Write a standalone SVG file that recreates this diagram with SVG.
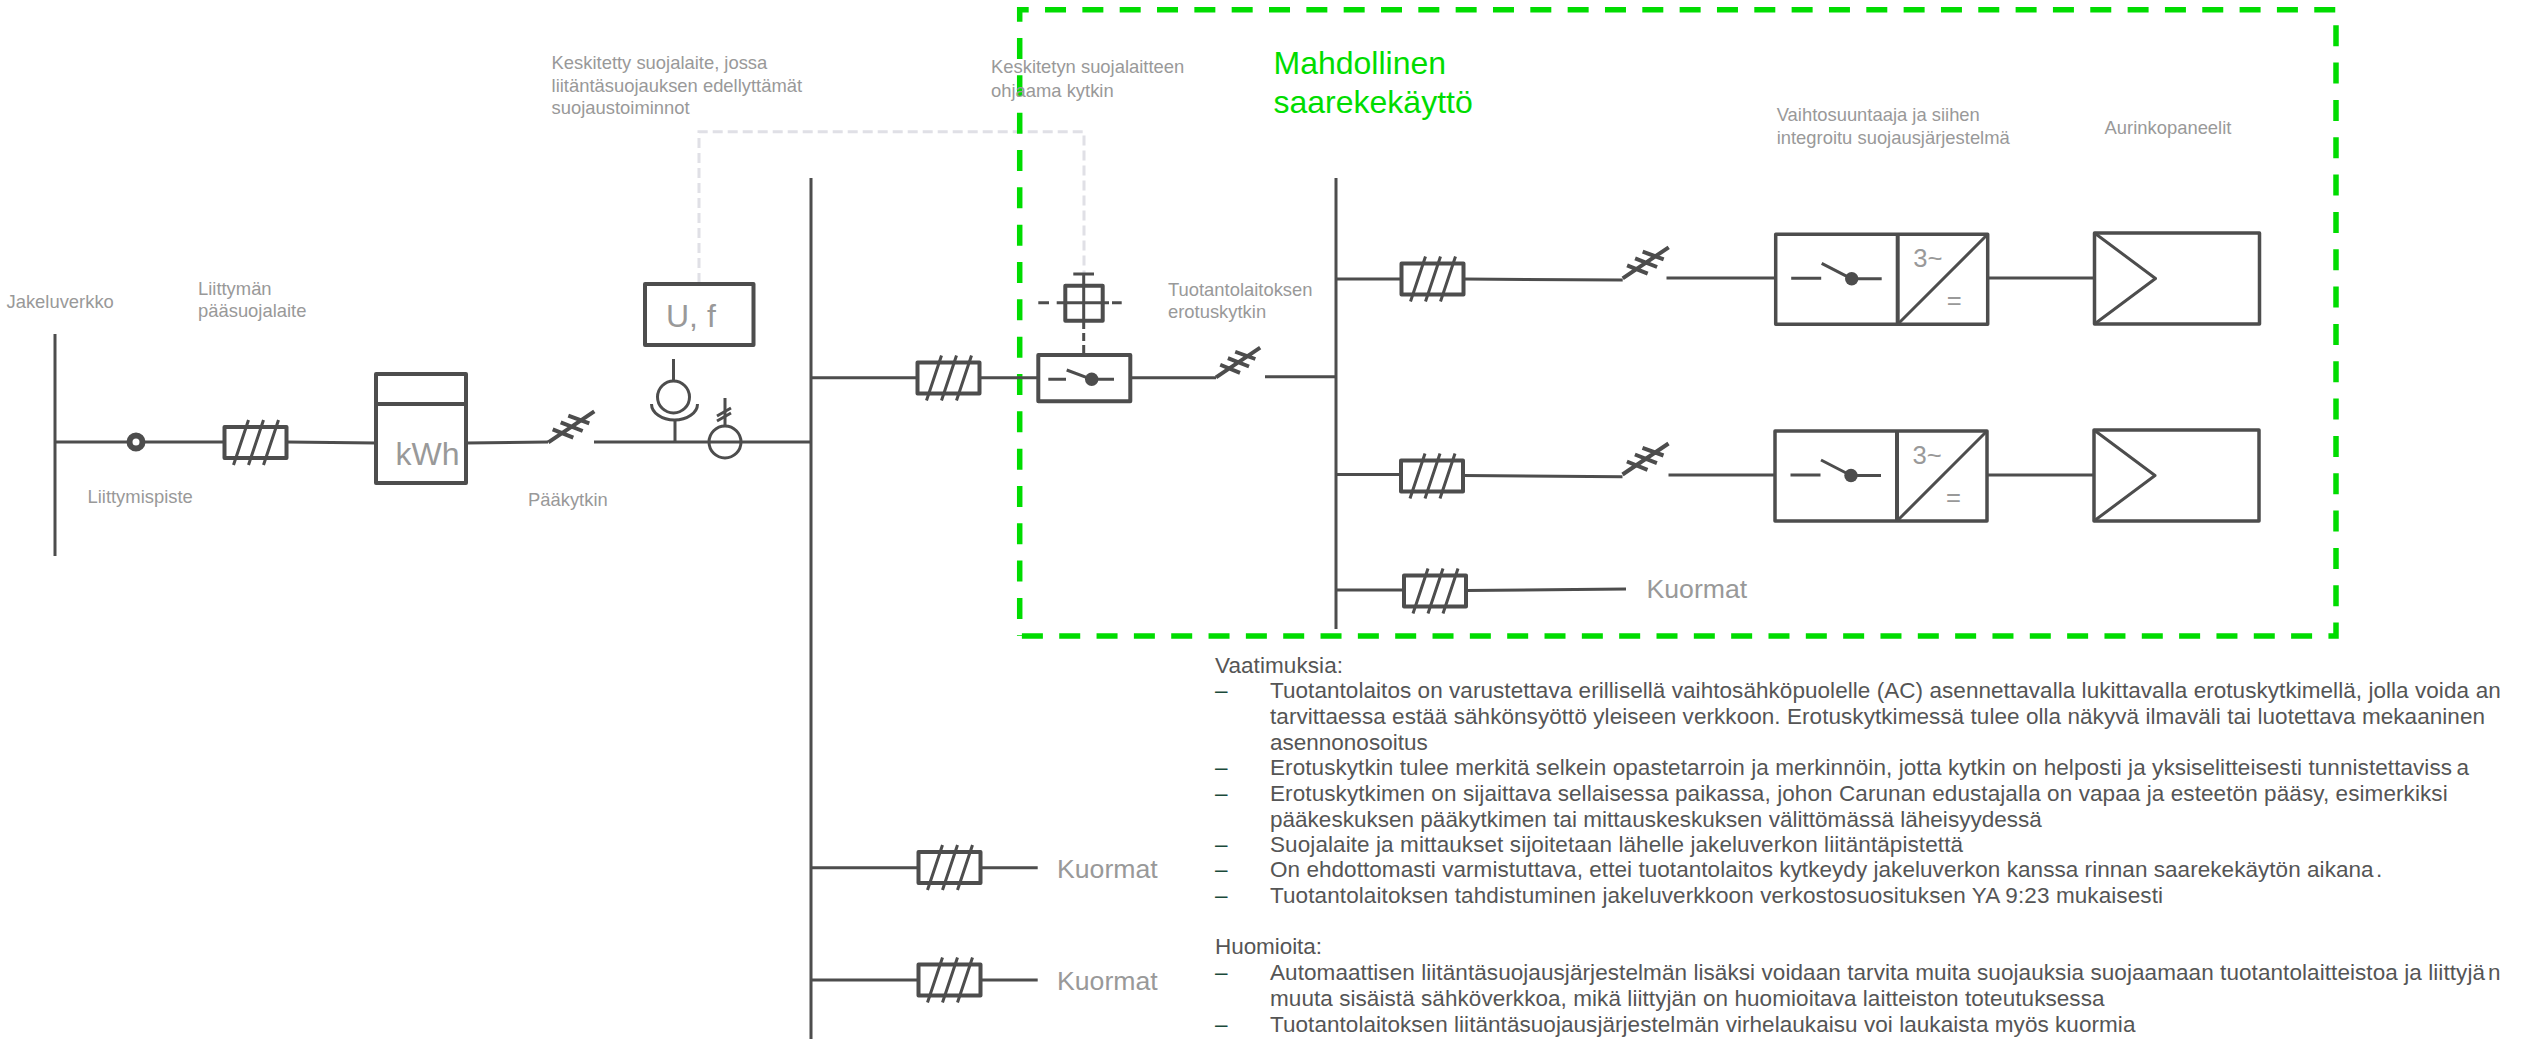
<svg xmlns="http://www.w3.org/2000/svg" width="2524" height="1039" viewBox="0 0 2524 1039">
<style>
text{font-family:"Liberation Sans",Arial,sans-serif}
.l{font-size:18.4px;fill:#999}
.k{font-size:26.67px;fill:#999}
.b{font-size:22.5px;fill:#555}
.d{font-size:22.5px;fill:#1a4a3a}
.g{font-size:32px;fill:#00dc00}
.w,.t,.h,.s,.m{fill:none;stroke:#4d4d4d;stroke-linejoin:round}
.w{stroke-width:3}
.t{stroke-width:3}
.h{stroke-width:4}
.m{stroke-width:3.5}
.s{stroke-width:3;stroke-dasharray:8 4}
</style>
<defs>
<g id="fuse">
<rect class="h" x="0" y="0" width="62" height="31" fill="#fff"/>
<path class="t" d="M9 38L24 -7M24 38L39 -7M39 38L54 -7"/>
</g>
<g id="sw">
<path class="h" d="M0 0L46 -31M4.4 -13L25 -4.6M12.4 -20L34.4 -11.3M20 -26.6L41 -19"/>
</g>
<g id="inv">
<rect class="m" x="0" y="0" width="212" height="90" fill="#fff"/>
<path class="h" d="M122 0V90"/>
<path class="t" d="M212 0L122 90"/>
<path class="w" d="M15.500 44H45.500M46 29L76 44.500H106"/>
<circle cx="76" cy="44.500" r="6.700" fill="#4d4d4d"/>
<text x="137.500" y="32.500" font-size="25.600" fill="#999">3~</text>
<text x="171" y="74.500" font-size="25.600" fill="#999">=</text>
</g>
<g id="pv">
<rect class="m" x="0" y="0" width="165" height="91" fill="#fff"/>
<path class="t" d="M0 0L61 45.500L0 91"/>
</g>
</defs>

<path id="control-link" d="M699 283V131.700H1084V274" fill="none" stroke="#e0e0e6" stroke-width="3" stroke-dasharray="10 5"/>
<g id="island-frame">
<path d="M1019.700 21.700V9.700H2336V636H1019.700" fill="none" stroke="#00dc00" stroke-width="5.500" stroke-dasharray="21 16.330"/>
<path d="M1019.700 38V636" fill="none" stroke="#00dc00" stroke-width="5.500" stroke-dasharray="21 16.330"/>
<text class="g" x="1273.500" y="74">Mahdollinen</text>
<text class="g" x="1273.500" y="112.500">saarekekäyttö</text>
</g>

<g id="connectors">
<path class="w" d="M55 442H224.500M287 442L376 443M466 443L548 442M594 442H811"/>
<path class="w" d="M811 377.700H917.500M979.500 377.700H1038M1130 377.700H1216M1265 376.700H1336"/>
<path class="w" d="M1336 279H1401.500M1463.500 279L1622.700 280M1666.500 278H1775.500M1988 278H2094.500"/>
<path class="w" d="M1336 474.500H1401M1463 475.500L1622.500 476.700M1668.500 475H1775M1986.500 475H2094"/>
<path class="w" d="M1336 590H1404M1466 590.500L1626 589"/>
<path class="w" d="M811 867.700H918M981 867.700H1037.700M811 980H918M981 980H1037.700"/>
<path class="w" d="M675 442V420M673.500 359V381M725 398V426"/>
<path class="s" d="M1083.700 321V355"/>
</g>

<g id="jakeluverkko">
<path class="w" d="M55 334V556"/>
<text class="l" x="6.500" y="308">Jakeluverkko</text>
</g>
<g id="liittymispiste">
<circle cx="136" cy="442" r="6.500" fill="#fff" stroke="#4d4d4d" stroke-width="6"/>
<text class="l" x="87.500" y="503">Liittymispiste</text>
</g>
<g id="paasuojalaite">
<use href="#fuse" x="224.500" y="427"/>
<text class="l" x="198" y="295">Liittymän</text>
<text class="l" x="198" y="317">pääsuojalaite</text>
</g>
<g id="kwh-mittari">
<rect class="h" x="376" y="374" width="90" height="109" fill="#fff"/>
<path class="h" d="M376 404H466"/>
<text x="395.500" y="465" font-size="32" fill="#999">kWh</text>
</g>
<g id="paakytkin">
<use href="#sw" x="548.300" y="442.300"/>
<text class="l" x="528" y="506">Pääkytkin</text>
</g>
<g id="mittamuuntajat">
<circle class="w" cx="673.500" cy="397" r="16"/>
<path class="w" d="M651.500 404A23 16 0 0 0 697.500 404"/>
<circle class="w" cx="725" cy="442" r="16"/>
<path class="w" d="M717 416L731 408M717 421L731 413"/>
</g>
<g id="uf-suojalaite">
<rect class="h" x="645" y="284" width="108.500" height="61" fill="#fff"/>
<text x="666" y="327" font-size="32" fill="#999">U, f</text>
<text class="l" x="551.600" y="69">Keskitetty suojalaite, jossa</text>
<text class="l" x="551.600" y="92">liitäntäsuojauksen edellyttämät</text>
<text class="l" x="551.600" y="114">suojaustoiminnot</text>
</g>
<g id="kisko-1"><path class="w" d="M811 178V1039"/></g>
<g id="sulake-2"><use href="#fuse" x="917.500" y="362.500"/></g>
<g id="ohjattu-kytkin">
<rect class="h" x="1038.300" y="355" width="92" height="46.300" fill="#fff"/>
<path class="w" d="M1048.300 379.300H1066M1066.700 370L1091.700 379.300H1114"/>
<circle cx="1091.700" cy="379.300" r="6.700" fill="#4d4d4d"/>
<rect class="h" x="1065.300" y="285.700" width="37.400" height="35" fill="#fff"/>
<path class="w" d="M1083.700 274V320.700M1073.300 274H1094M1056.700 302.700H1109M1038.300 302.700H1049M1112 302.700H1121.700"/>
<text class="l" x="991" y="73">Keskitetyn suojalaitteen</text>
<text class="l" x="991" y="97">ohjaama kytkin</text>
</g>
<g id="erotuskytkin">
<use href="#sw" transform="translate(1216 377.300) scale(.96)"/>
<text class="l" x="1168" y="296">Tuotantolaitoksen</text>
<text class="l" x="1168" y="318">erotuskytkin</text>
</g>
<g id="kisko-2"><path class="w" d="M1336 178V629"/></g>
<g id="sulake-3"><use href="#fuse" x="1401.500" y="263.500"/></g>
<g id="kytkin-3"><use href="#sw" x="1622.700" y="278.300"/></g>
<g id="vaihtosuuntaaja-1">
<use href="#inv" x="1775.700" y="234.300"/>
<text class="l" x="1776.700" y="121">Vaihtosuuntaaja ja siihen</text>
<text class="l" x="1776.700" y="144">integroitu suojausjärjestelmä</text>
</g>
<g id="aurinkopaneeli-1">
<use href="#pv" x="2094.500" y="233"/>
<text class="l" x="2104.600" y="134">Aurinkopaneelit</text>
</g>
<g id="sulake-4"><use href="#fuse" x="1401" y="460.500"/></g>
<g id="kytkin-4"><use href="#sw" x="1622.500" y="474.500"/></g>
<g id="vaihtosuuntaaja-2"><use href="#inv" x="1775" y="431"/></g>
<g id="aurinkopaneeli-2"><use href="#pv" x="2094" y="430"/></g>
<g id="kuormat-1">
<use href="#fuse" x="1404" y="575.500"/>
<text class="k" x="1646.500" y="598">Kuormat</text>
</g>
<g id="kuormat-2">
<use href="#fuse" x="918.500" y="852"/>
<text class="k" x="1057" y="877.500">Kuormat</text>
</g>
<g id="kuormat-3">
<use href="#fuse" x="918.500" y="964.500"/>
<text class="k" x="1057" y="989.500">Kuormat</text>
</g>

<g id="vaatimukset">
<text class="b" x="1215" y="673" textLength="128">Vaatimuksia:</text>
<text class="d" x="1215" y="698.300">–</text>
<text class="b" y="698.300"><tspan x="1270" textLength="1199">Tuotantolaitos on varustettava erillisellä vaihtosähköpuolelle (AC) asennettavalla lukittavalla erotuskytkimellä, jolla voida</tspan><tspan x="2475.700">an</tspan></text>
<text class="b" x="1270" y="723.700" textLength="1215">tarvittaessa estää sähkönsyöttö yleiseen verkkoon. Erotuskytkimessä tulee olla näkyvä ilmaväli tai luotettava mekaaninen</text>
<text class="b" x="1270" y="750" textLength="157.700">asennonosoitus</text>
<text class="d" x="1215" y="775">–</text>
<text class="b" y="775"><tspan x="1270" textLength="1182">Erotuskytkin tulee merkitä selkein opastetarroin ja merkinnöin, jotta kytkin on helposti ja yksiselitteisesti tunnistettaviss</tspan><tspan x="2456.500">a</tspan></text>
<text class="d" x="1215" y="801">–</text>
<text class="b" x="1270" y="801" textLength="1177.700">Erotuskytkimen on sijaittava sellaisessa paikassa, johon Carunan edustajalla on vapaa ja esteetön pääsy, esimerkiksi</text>
<text class="b" x="1270" y="826.700" textLength="771.800">pääkeskuksen pääkytkimen tai mittauskeskuksen välittömässä läheisyydessä</text>
<text class="d" x="1215" y="851.700">–</text>
<text class="b" x="1270" y="851.700" textLength="693">Suojalaite ja mittaukset sijoitetaan lähelle jakeluverkon liitäntäpistettä</text>
<text class="d" x="1215" y="877">–</text>
<text class="b" y="877"><tspan x="1270" textLength="1103.600">On ehdottomasti varmistuttava, ettei tuotantolaitos kytkeydy jakeluverkon kanssa rinnan saarekekäytön aikana</tspan><tspan x="2376">.</tspan></text>
<text class="d" x="1215" y="903">–</text>
<text class="b" x="1270" y="903" textLength="893">Tuotantolaitoksen tahdistuminen jakeluverkkoon verkostosuosituksen YA 9:23 mukaisesti</text>
</g>
<g id="huomioita">
<text class="b" x="1215" y="954" textLength="107">Huomioita:</text>
<text class="d" x="1215" y="980">–</text>
<text class="b" y="980"><tspan x="1270" textLength="1215">Automaattisen liitäntäsuojausjärjestelmän lisäksi voidaan tarvita muita suojauksia suojaamaan tuotantolaitteistoa ja liittyjä</tspan><tspan x="2488">n</tspan></text>
<text class="b" x="1270" y="1006" textLength="834.500">muuta sisäistä sähköverkkoa, mikä liittyjän on huomioitava laitteiston toteutuksessa</text>
<text class="d" x="1215" y="1031.700">–</text>
<text class="b" x="1270" y="1031.700" textLength="865.400">Tuotantolaitoksen liitäntäsuojausjärjestelmän virhelaukaisu voi laukaista myös kuormia</text>
</g>
</svg>
